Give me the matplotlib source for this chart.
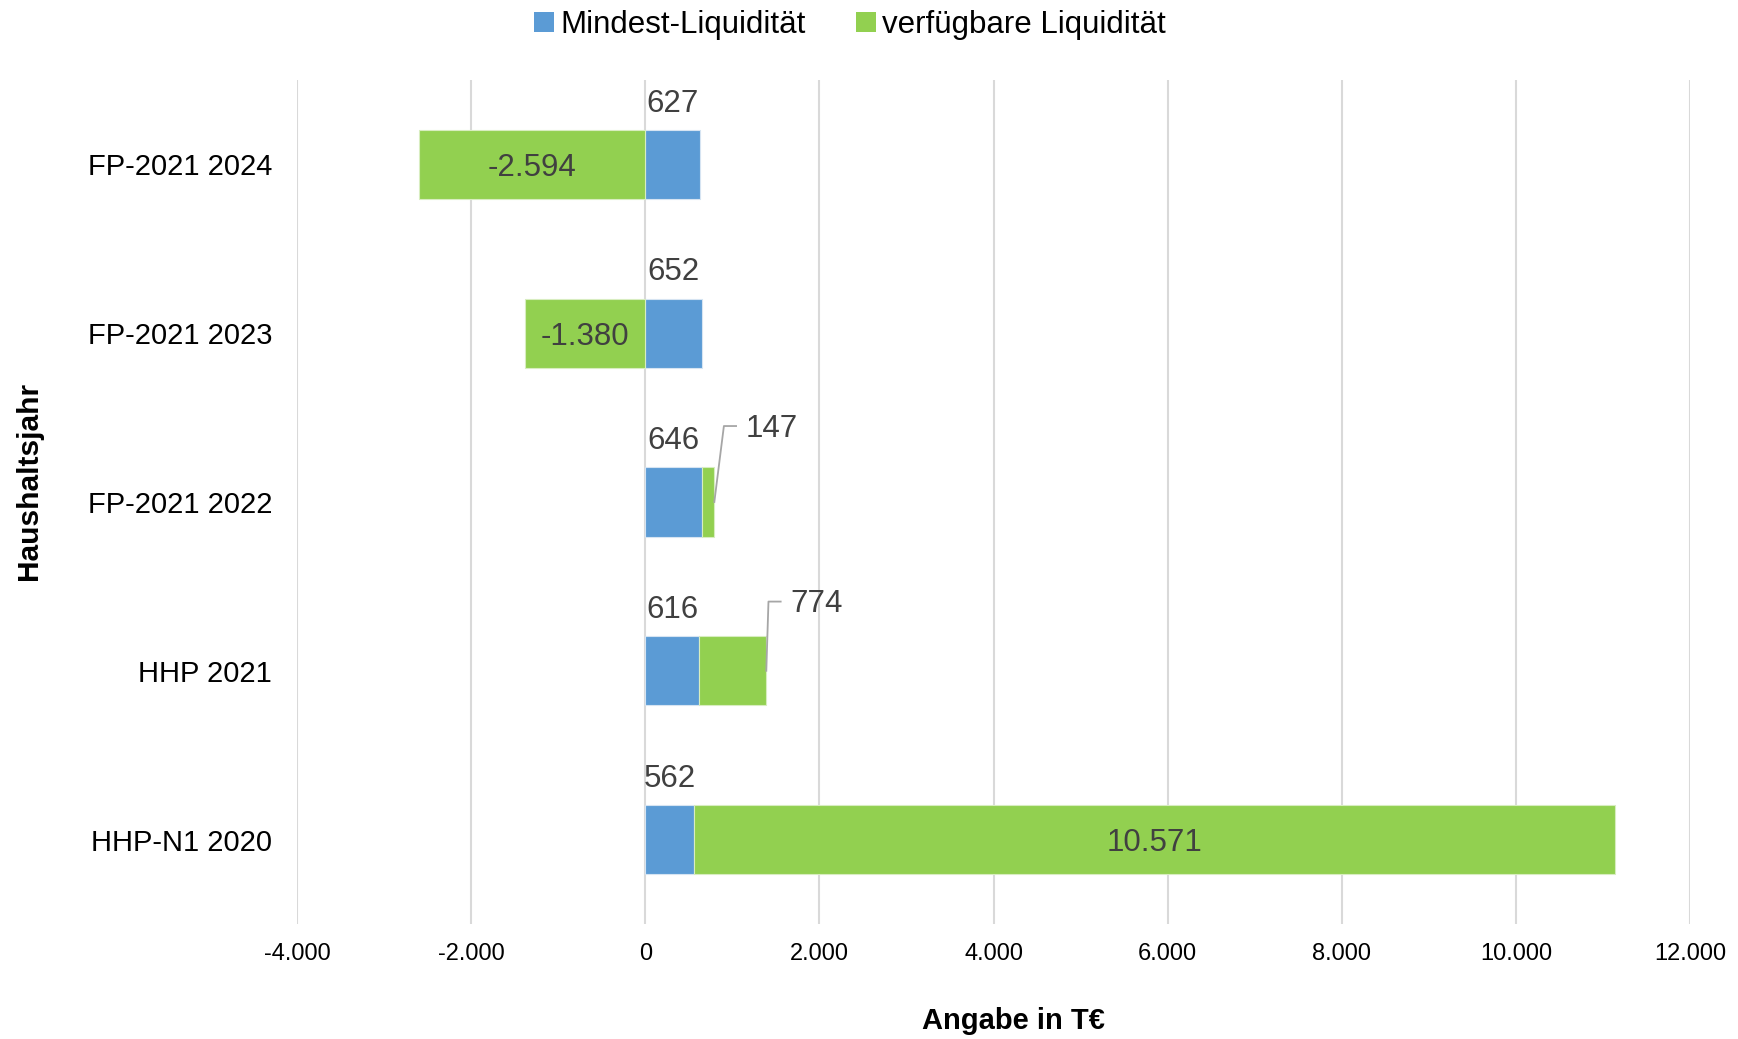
import numpy as np
import matplotlib.pyplot as plt
from matplotlib.patches import Patch
from matplotlib.ticker import FuncFormatter

plt.rcParams['font.family'] = ['Liberation Sans', 'DejaVu Sans']

# Haushaltsjahre (von oben nach unten)
jahre = ['FP-2021 2024', 'FP-2021 2023', 'FP-2021 2022', 'HHP 2021', 'HHP-N1 2020']
mindest = np.array([627, 652, 646, 616, 562])
verfuegbar = np.array([-2594, -1380, 147, 774, 10571])

blau = '#5B9BD5'
gruen = '#92D050'
txt = '#404040'

def fmt(v):
    return '{:,.0f}'.format(v).replace(',', '.')

fig = plt.figure(figsize=(17.38, 10.39), dpi=100)
ax = fig.add_axes([0.1709, 0.1107, 0.8015, 0.8123])

y = np.arange(len(jahre))
h = 0.41
# negative Werte werden ab 0 gestapelt, positive hinter dem Mindestbestand
links = np.where(verfuegbar < 0, 0, mindest)

ax.barh(y, mindest, height=h, color=blau, edgecolor='#d6e4f2', linewidth=0.8, zorder=3)
ax.barh(y, verfuegbar, left=links, height=h, color=gruen, edgecolor='#d8edc0', linewidth=0.8, zorder=3)

ax.set_xlim(-4000, 12000)
ax.set_ylim(len(jahre) - 0.5, -0.5)
ax.set_xticks(np.arange(-4000, 12001, 2000))
ax.xaxis.set_major_formatter(FuncFormatter(lambda v, p: fmt(v)))
ax.set_yticks(y)
ax.set_yticklabels(jahre, fontsize=21)
ax.tick_params(axis='x', labelsize=17, length=0, pad=14)
ax.tick_params(axis='y', length=0, pad=18)
ax.grid(axis='x', color='#d9d9d9', linewidth=1.5, zorder=0)
for s in ax.spines.values():
    s.set_visible(False)

# Beschriftung Mindest-Liquidität über dem Balken
for i in range(len(jahre)):
    ax.text(mindest[i] / 2, y[i] - 0.36, fmt(mindest[i]), ha='center', va='center',
            fontsize=22.5, color=txt, zorder=4)

# Führungslinien: (Knick hinter Balkenende, Höhe relativ zur Kategorie)
fuehrung = {2: (110, -0.45), 3: (25, -0.41)}

# Beschriftung verfügbare Liquidität
for i in range(len(jahre)):
    v = verfuegbar[i]
    ende = links[i] + v
    if i not in fuehrung:
        ax.text(links[i] + v / 2, y[i] + 0.02, fmt(v), ha='center', va='center',
                fontsize=22.5, color=txt, zorder=4)
    else:
        dx, dy = fuehrung[i]
        ty = y[i] + dy
        knick = ende + dx
        ax.plot([ende, knick, knick + 140], [y[i], ty, ty], color='#a6a6a6',
                linewidth=1.3, zorder=4)
        ax.text(knick + 250, ty + 0.015, fmt(v), ha='left', va='center',
                fontsize=22.5, color=txt, zorder=4)

fig.text(29 / 1738, 0.537, 'Haushaltsjahr', rotation=90, ha='center', va='center',
         fontsize=21.5, fontweight='bold')
fig.text(1013 / 1738, 0.017, 'Angabe in T€', ha='center', va='center',
         fontsize=21, fontweight='bold')

handles = [Patch(facecolor=blau, label='Mindest-Liquidität'),
           Patch(facecolor=gruen, label='verfügbare Liquidität')]
fig.legend(handles=handles, loc='center', bbox_to_anchor=(0.489, 0.976), ncol=2,
           frameon=False, fontsize=22.5, handlelength=0.65, handleheight=0.65,
           handletextpad=0.2, columnspacing=1.6)

fig.savefig('out.png', dpi=100)
